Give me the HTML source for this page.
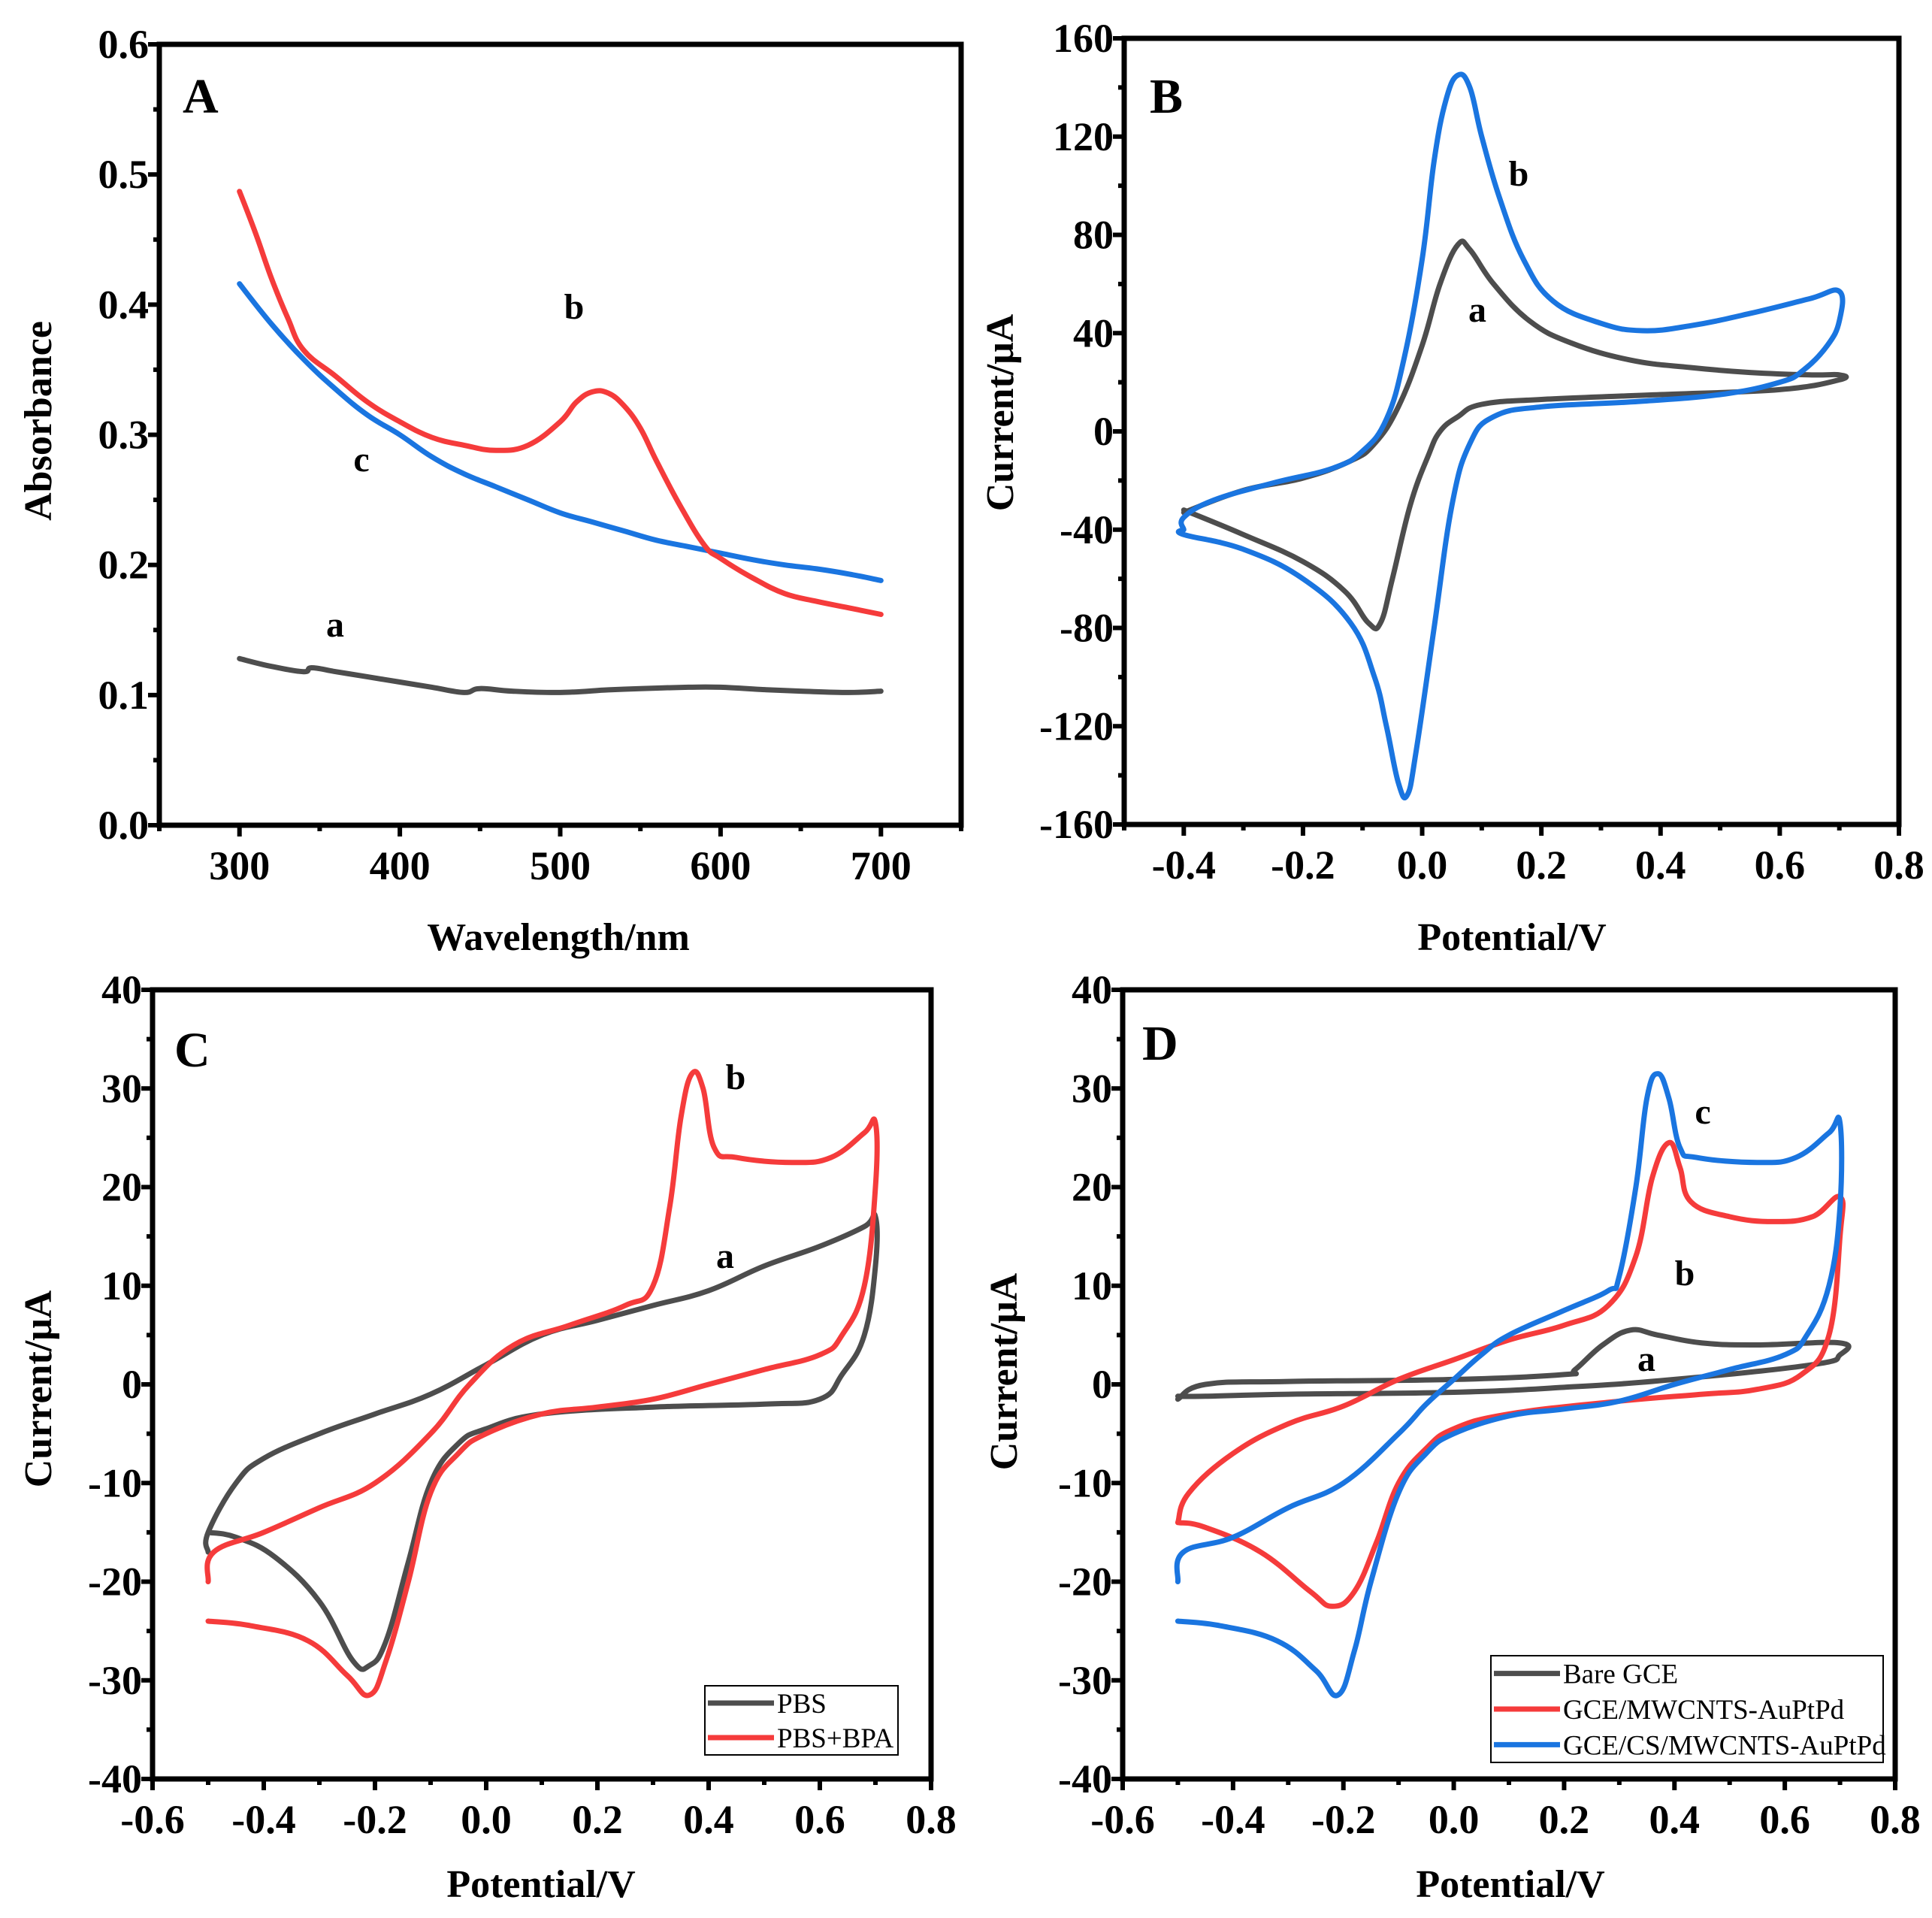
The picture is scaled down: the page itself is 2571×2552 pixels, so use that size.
<!DOCTYPE html>
<html><head><meta charset="utf-8"><style>
body{margin:0;background:#fff}
svg{display:block}
text{font-family:"Liberation Serif",serif;font-weight:bold;fill:#000}
</style></head><body>
<svg id="fig" width="2571" height="2552" viewBox="0 0 2571 2552" xmlns="http://www.w3.org/2000/svg"></svg>
<script>
// Panel A data (wavelength nm, absorbance)
const aX=[300,320,340,345,360,380,400,420,440,450,470,500,530,550,580,600,630,650,680,700];
const aA=[0.128,0.122,0.118,0.121,0.118,0.114,0.110,0.106,0.102,0.105,0.103,0.102,0.104,0.105,0.106,0.106,0.104,0.103,0.102,0.103];
const bX=[300,310,320,330,340,360,380,400,420,440,460,480,500,510,520,530,540,550,560,575,590,600,620,640,660,680,700];
const bA=[0.487,0.455,0.42,0.39,0.365,0.345,0.325,0.31,0.298,0.292,0.288,0.292,0.31,0.325,0.333,0.332,0.322,0.305,0.28,0.245,0.215,0.205,0.19,0.178,0.172,0.167,0.162];
const cX=[300,320,340,360,380,400,420,440,460,480,500,520,540,560,580,600,620,640,660,680,700];
const cA=[0.416,0.385,0.358,0.335,0.315,0.3,0.283,0.27,0.26,0.25,0.24,0.233,0.226,0.219,0.214,0.209,0.204,0.2,0.197,0.193,0.188];
// Panel B (potential V, current uA)
const BaE=[-0.4,-0.3,-0.2,-0.12,-0.08,-0.04,0,0.03,0.06,0.08,0.12,0.18,0.25,0.35,0.45,0.55,0.65,0.7,0.7,0.6,0.4,0.2,0.1,0.06,0.03,0.01,-0.02,-0.05,-0.07,-0.09,-0.13,-0.2,-0.3,-0.4];
const BaI=[-33,-24,-19,-12,-5,10,35,60,76,74,60,45,36,29,26,24,23,23,21,17,15,13,11,6,0,-10,-30,-60,-78,-78,-65,-53,-42,-32];
const BbE=[-0.4,-0.4,-0.35,-0.25,-0.15,-0.1,-0.06,-0.03,0,0.02,0.04,0.06,0.08,0.1,0.13,0.17,0.22,0.3,0.37,0.45,0.55,0.65,0.7,0.7,0.68,0.64,0.6,0.5,0.35,0.2,0.12,0.08,0.05,0.02,-0.01,-0.025,-0.04,-0.06,-0.08,-0.12,-0.2,-0.3,-0.4,-0.4];
const BbI=[-40,-35,-28,-21,-15,-8,5,30,70,110,135,145,140,120,95,70,53,44,41,43,48,54,57,45,35,25,20,15,12,10,6,-5,-30,-80,-130,-148,-143,-120,-100,-78,-60,-48,-42,-40];
// Panel C
const CaE=[-0.5,-0.5,-0.45,-0.4,-0.3,-0.2,-0.1,0,0.1,0.2,0.3,0.4,0.5,0.6,0.68,0.7,0.7,0.68,0.64,0.6,0.5,0.3,0.1,0,-0.05,-0.1,-0.14,-0.18,-0.21,-0.24,-0.3,-0.38,-0.45,-0.5];
const CaI=[-17,-15,-10,-7.5,-5,-3,-1,2,5,6.5,8,9.5,12,14,16,17,12,5,1,-1.5,-2,-2.3,-3,-4.5,-6,-10,-18,-26,-28.5,-28,-22,-17.5,-15.5,-15];
const CbE=[-0.5,-0.49,-0.4,-0.3,-0.2,-0.1,-0.03,0.05,0.15,0.25,0.3,0.33,0.35,0.37,0.39,0.41,0.45,0.55,0.62,0.68,0.7,0.7,0.68,0.64,0.6,0.5,0.4,0.3,0.2,0.1,0,-0.05,-0.1,-0.14,-0.18,-0.21,-0.25,-0.32,-0.42,-0.5];
const CbI=[-20,-17,-15,-12.5,-10,-5,0,4,6,8,10,18,27,31.5,30,24,23,22.5,23,25.5,26.5,20,10,5,3,1.5,0,-1.5,-2.3,-3,-5,-7,-11,-20,-28,-31.5,-29.5,-26,-24.5,-24];
// Panel D
const DaE=[-0.5,-0.45,-0.3,0,0.2,0.22,0.27,0.32,0.37,0.45,0.55,0.7,0.7,0.65,0.4,0.2,0,-0.3,-0.45,-0.5];
const DaI=[-1.5,0,0.3,0.5,1,1.5,4,5.5,5,4.2,4,4.2,3,2,0.5,-0.3,-0.8,-1,-1.2,-1.2];
const DbE=[-0.5,-0.48,-0.4,-0.3,-0.2,-0.1,0,0.1,0.2,0.28,0.33,0.36,0.39,0.41,0.43,0.5,0.58,0.65,0.7,0.7,0.68,0.63,0.55,0.45,0.3,0.1,0,-0.05,-0.1,-0.14,-0.18,-0.22,-0.26,-0.35,-0.45,-0.5];
const DbI=[-14,-11,-7,-4,-2.2,0.5,2.5,4.5,6,8,13,21,24.5,22,18.5,17,16.5,17,19,15,5,1,-0.5,-1,-1.7,-3,-4.5,-6.5,-10,-16,-21,-22.5,-21,-17,-14.5,-14];
const DcE=[-0.5,-0.49,-0.4,-0.3,-0.2,-0.1,-0.05,0,0.05,0.1,0.2,0.28,0.3,0.33,0.35,0.37,0.39,0.41,0.44,0.55,0.62,0.68,0.7,0.7,0.68,0.64,0.6,0.5,0.4,0.3,0.2,0.1,0,-0.05,-0.1,-0.15,-0.18,-0.21,-0.25,-0.32,-0.42,-0.5];
const DcI=[-20,-17,-15.5,-12.5,-10,-5,-2,0.5,3,5,7.5,9.5,11,20,29,31.5,29,24,23,22.5,23,25.5,26.5,18,10,5,3,1.5,0,-1.7,-2.5,-3.2,-5,-7,-11,-20,-27,-31.5,-29,-26,-24.5,-24];

const NS="http://www.w3.org/2000/svg";
const svg=document.getElementById('fig');
function mk(tag,attrs,parent){const e=document.createElementNS(NS,tag);for(const k in attrs)e.setAttribute(k,attrs[k]);(parent||svg).appendChild(e);return e;}
function fmt(v,d){return v.toFixed(d);}
function smooth(pts){
  let d='M'+pts[0][0].toFixed(1)+' '+pts[0][1].toFixed(1);
  const k=0.2;
  for(let i=0;i<pts.length-1;i++){
    const p0=pts[Math.max(0,i-1)],p1=pts[i],p2=pts[i+1],p3=pts[Math.min(pts.length-1,i+2)];
    const c1=[p1[0]+(p2[0]-p0[0])*k,p1[1]+(p2[1]-p0[1])*k];
    const c2=[p2[0]-(p3[0]-p1[0])*k,p2[1]-(p3[1]-p1[1])*k];
    d+=` C${c1[0].toFixed(1)} ${c1[1].toFixed(1)} ${c2[0].toFixed(1)} ${c2[1].toFixed(1)} ${p2[0].toFixed(1)} ${p2[1].toFixed(1)}`;
  }
  return d;
}

function panel(cfg){
  const g=mk('g',{});
  
  
  const {l,t,r,b}=cfg;
  const sx=v=>l+(v-cfg.x0)/(cfg.x1-cfg.x0)*(r-l);
  const sy=v=>b-(v-cfg.y0)/(cfg.y1-cfg.y0)*(b-t);
  const n=Math.round((cfg.x1-cfg.x0)/cfg.xminor);
  for(let i=0;i<=n;i++){
    const v=cfg.x0+i*cfg.xminor;const x=sx(v);
    const major=Math.abs(((v-cfg.xstart)/cfg.xmajor)-Math.round((v-cfg.xstart)/cfg.xmajor))<1e-6 && v>=cfg.xstart-1e-9;
    const tk=mk('line',{x1:x,x2:x,y1:b,y2:b+(major?15:8),stroke:'#000','stroke-width':6},g);
    
    
    if(major){const tx=mk('text',{x:x,y:b+72,'text-anchor':'middle','font-size':54},g);tx.textContent=fmt(v,cfg.xdec);
      
      }
  }
  const m=Math.round((cfg.y1-cfg.y0)/cfg.yminor);
  for(let i=0;i<=m;i++){
    const v=cfg.y0+i*cfg.yminor;const y=sy(v);
    const major=Math.abs((v-cfg.y0)/cfg.ymajor-Math.round((v-cfg.y0)/cfg.ymajor))<1e-6;
    const tk=mk('line',{x1:l,x2:l-(major?15:8),y1:y,y2:y,stroke:'#000','stroke-width':6},g);
    
    
    if(major){const tx=mk('text',{x:l-14,y:y+18,'text-anchor':'end','font-size':54},g);tx.textContent=fmt(v,cfg.ydec);
      
      }
  }
  cfg.series.forEach(s=>{
    const pts=s.x.map((v,i)=>[sx(v),sy(s.y[i])]);
    const p=mk('path',{d:smooth(pts),fill:'none',stroke:s.color,'stroke-width':7,'stroke-linejoin':'round','stroke-linecap':'round'},g);
    
    
  });
  const fr=mk('rect',{x:l,y:t,width:r-l,height:b-t,fill:'none',stroke:'#000','stroke-width':7},g);
  
  
  const pl=mk('text',{x:cfg.letter[0],y:cfg.letter[1],'font-size':66},g);pl.textContent=cfg.id;
  
  
  cfg.labels.forEach(L=>{const tx=mk('text',{x:L[1],y:L[2],'font-size':48,'text-anchor':'middle'},g);tx.textContent=L[0];
    
    });
  const xt=mk('text',{x:cfg.xt[0],y:cfg.xt[1],'font-size':52,'text-anchor':'middle'},g);xt.textContent=cfg.xtitle;
  
  
  const yt=mk('text',{x:0,y:0,'font-size':52,'text-anchor':'middle',transform:`translate(${cfg.yt[0]},${cfg.yt[1]}) rotate(-90)`},g);yt.textContent=cfg.ytitle;
  
  
  if(cfg.legend){
    const [lx,ly,lw,lh]=cfg.legend.box;
    const lg=mk('g',{},g);
    
    
    mk('rect',{x:lx,y:ly,width:lw,height:lh,fill:'#fff',stroke:'#000','stroke-width':2},lg);
    const rh=lh/cfg.legend.items.length;
    cfg.legend.items.forEach((it,i)=>{
      const yy=ly+rh*(i+0.5);
      const e=mk('g',{},lg);
      
      
      mk('line',{x1:lx+4,x2:lx+92,y1:yy,y2:yy,stroke:it[1],'stroke-width':7},e);
      const tx=mk('text',{x:lx+96,y:yy+13,'font-size':37,style:'font-weight:normal'},e);tx.textContent=it[0];
    });
  }
}

panel({id:'A',l:212,t:59,r:1279,b:1098,x0:250,x1:750,xstart:300,xmajor:100,xminor:50,xdec:0,y0:0,y1:0.6,ymajor:0.1,yminor:0.05,ydec:1,
  series:[{name:'curve-a',x:aX,y:aA,color:'#4d4d4d'},{name:'curve-c',x:cX,y:cA,color:'#1a75e0'},{name:'curve-b',x:bX,y:bA,color:'#f53b3b'}],
  letter:[243,150],labels:[['b',764,424],['c',481,627],['a',446,847]],xt:[743,1264],xtitle:'Wavelength/nm',yt:[68,560],ytitle:'Absorbance'});
panel({id:'B',l:1496,t:51,r:2527,b:1097,x0:-0.5,x1:0.8,xstart:-0.4,xmajor:0.2,xminor:0.1,xdec:1,y0:-160,y1:160,ymajor:40,yminor:20,ydec:0,
  series:[{name:'curve-a',x:BaE,y:BaI,color:'#4d4d4d'},{name:'curve-b',x:BbE,y:BbI,color:'#1a75e0'}],
  letter:[1530,150],labels:[['b',2021,247],['a',1966,428]],xt:[2012,1264],xtitle:'Potential/V',yt:[1348,549],ytitle:'Current/μA'});
panel({id:'C',l:203,t:1317,r:1239,b:2367,x0:-0.6,x1:0.8,xstart:-0.6,xmajor:0.2,xminor:0.1,xdec:1,y0:-40,y1:40,ymajor:10,yminor:5,ydec:0,
  series:[{name:'curve-pbs',x:CaE,y:CaI,color:'#4d4d4d'},{name:'curve-pbs-bpa',x:CbE,y:CbI,color:'#f53b3b'}],
  letter:[232,1419],labels:[['b',979,1449],['a',965,1687]],xt:[720,2524],xtitle:'Potential/V',yt:[68,1848],ytitle:'Current/μA',
  legend:{box:[938,2243,257,92],items:[['PBS','#4d4d4d'],['PBS+BPA','#f53b3b']]}});
panel({id:'D',l:1494,t:1317,r:2522,b:2367,x0:-0.6,x1:0.8,xstart:-0.6,xmajor:0.2,xminor:0.1,xdec:1,y0:-40,y1:40,ymajor:10,yminor:5,ydec:0,
  series:[{name:'curve-bare-gce',x:DaE,y:DaI,color:'#4d4d4d'},{name:'curve-gce-mwcnts',x:DbE,y:DbI,color:'#f53b3b'},{name:'curve-gce-cs-mwcnts',x:DcE,y:DcI,color:'#1a75e0'}],
  letter:[1520,1410],labels:[['c',2266,1495],['b',2242,1710],['a',2191,1824]],xt:[2010,2524],xtitle:'Potential/V',yt:[1353,1825],ytitle:'Current/μA',
  legend:{box:[1984,2203,522,142],items:[['Bare GCE','#4d4d4d'],['GCE/MWCNTS-AuPtPd','#f53b3b'],['GCE/CS/MWCNTS-AuPtPd','#1a75e0']]}});
</script>
</body></html>
